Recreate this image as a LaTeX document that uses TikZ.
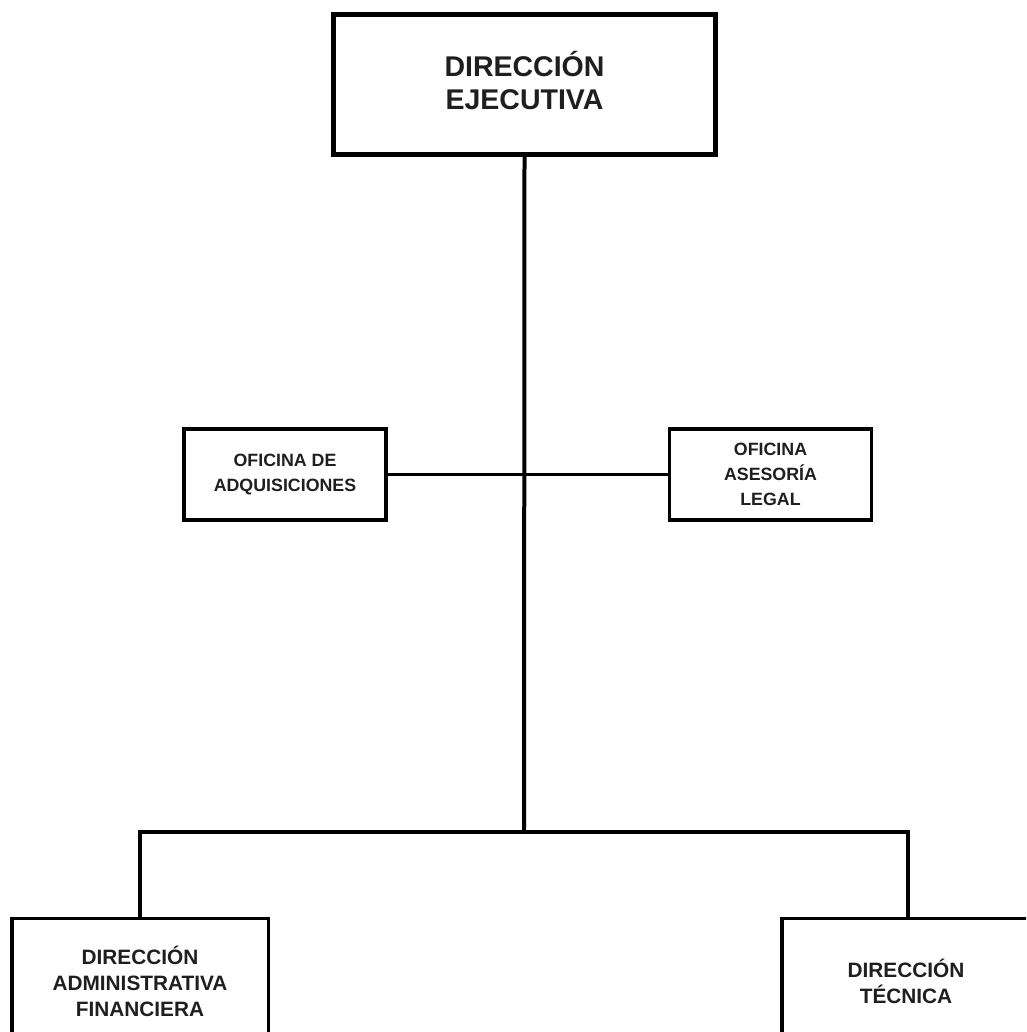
\documentclass[tikz,border=0pt]{standalone}
\usepackage{fontspec}
\setmainfont{Liberation Sans}
\begin{document}
\begin{tikzpicture}[x=1pt,y=-1pt,
  box/.style={draw=black, rectangle, align=center, inner sep=0pt, text=black!88, font=\bfseries},
  bigbox/.style={box, line width=5pt, minimum width=382pt, minimum height=140pt},
  bigtext/.style={align=center, text=black!88, inner sep=0pt, font=\bfseries\fontsize{28.5}{33}\selectfont},
  offbox/.style={box, line width=3.5pt, minimum width=202pt, minimum height=91pt, font=\bfseries\fontsize{17.8}{25}\selectfont},
  dirbox/.style={box, line width=3.5pt, minimum height=125pt, font=\bfseries\fontsize{20.8}{26}\selectfont},
  conn/.style={draw=black, line width=3.5pt}]
\useasboundingbox (0,0) rectangle (1026,1032);
\fill[white] (0,0) rectangle (1026,1032);
\begin{scope}
\clip (0,0) rectangle (1026,1032);
\node[bigbox, label={[bigtext, yshift=4pt]center:{DIRECCIÓN\\EJECUTIVA}}] (de) at (524.5,84.5) {};
\node[offbox] (adq) at (285,474.5) {OFICINA DE\\ADQUISICIONES};
\node[offbox] (leg) at (770.5,474.5) {OFICINA\\ASESORÍA\\LEGAL};
\node[dirbox, minimum width=256.5pt] (daf) at (140,981) {DIRECCIÓN\\ADMINISTRATIVA\\FINANCIERA};
\node[dirbox, minimum width=248.5pt] (dt) at (906,981) {DIRECCIÓN\\TÉCNICA};
\coordinate (bar) at (524,832);
\draw[conn, line width=4pt] (de.south) -- (bar);
\draw[conn] (adq.east) -- (leg.west);
\draw[conn] (daf.north) |- (bar);
\draw[conn] (bar) -| ([xshift=2pt]dt.north);
\end{scope}
\end{tikzpicture}
\end{document}
